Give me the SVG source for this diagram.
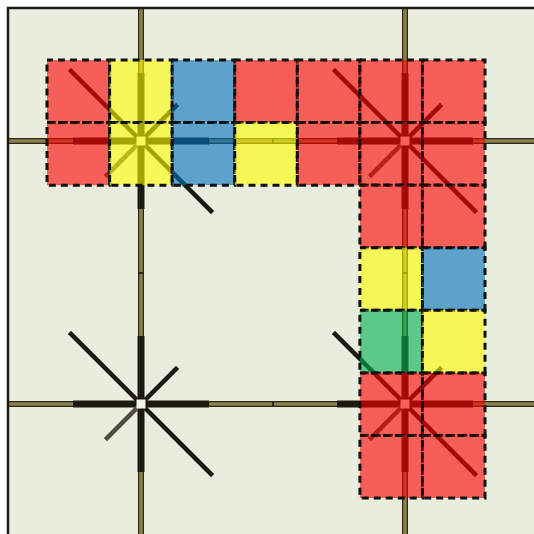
<svg xmlns="http://www.w3.org/2000/svg" width="534" height="534" viewBox="0 0 534 534">
<defs>
<style>
.bg{fill:#e9eddd}
.frame{stroke:#1e1c14;stroke-width:2.5;fill:none}
.wo{stroke:#2a2718;stroke-width:6;fill:none}
.wi{stroke:#8b7f4e;stroke-width:3.6;fill:none}
.tick{stroke:#2a2718;stroke-width:2}
.arm{stroke:#1c1a10;stroke-width:7;stroke-linecap:butt}
.diag{stroke:#1c1a10;stroke-width:4.5;stroke-linecap:square}
.diag2{stroke:#4f4c3e;stroke-width:4.5;stroke-linecap:square}
.hub{fill:#eef1e6}
.t{fill-opacity:0.6;stroke:#111;stroke-width:3;stroke-dasharray:7 5;stroke-dashoffset:1;stroke-opacity:1}
.r{fill:#ff0000}.y{fill:#ffff00}.b{fill:#0070c0}.g{fill:#00b050}
</style>
<g id="glyph">
<line class="arm" x1="0" y1="-4" x2="0" y2="-68"/>
<line class="arm" x1="0" y1="4" x2="0" y2="68"/>
<line class="arm" x1="-4" y1="0" x2="-68" y2="0"/>
<line class="arm" x1="4" y1="0" x2="68" y2="0"/>
<line class="diag" x1="0" y1="0" x2="-70" y2="-70"/>
<line class="diag" x1="0" y1="0" x2="70" y2="70"/>
<line class="diag" x1="0" y1="0" x2="35" y2="-35"/>
<line class="diag2" x1="-4" y1="4" x2="-34" y2="34"/>
<rect class="hub" x="-4.5" y="-4.5" width="9" height="9"/>
</g>
</defs>
<rect class="bg" x="8" y="8" width="526" height="526"/>
<g id="connectors">
<path class="wo" d="M8 141H534M8 404H534M141 8V534M405 8V534"/>
<path class="wi" d="M8 141H534M8 404H534M141 8V534M405 8V534"/>
<path class="tick" d="M273 138V144M273 401V407M138 273H144M402 273H408"/>
</g>
<path class="frame" d="M8 534V8H534"/>
<g id="node-nw"><use href="#glyph" x="141" y="141"/></g>
<g id="node-ne"><use href="#glyph" x="405" y="141"/></g>
<g id="node-sw"><use href="#glyph" x="141" y="404"/></g>
<g id="node-se"><use href="#glyph" x="405" y="404"/></g>
<g id="tiles">
<rect class="t r" x="47" y="60" width="62.6" height="62.6"/>
<rect class="t y" x="109.6" y="60" width="62.6" height="62.6"/>
<rect class="t b" x="172.1" y="60" width="62.6" height="62.6"/>
<rect class="t r" x="234.7" y="60" width="62.6" height="62.6"/>
<rect class="t r" x="297.3" y="60" width="62.6" height="62.6"/>
<rect class="t r" x="359.9" y="60" width="62.6" height="62.6"/>
<rect class="t r" x="422.4" y="60" width="62.6" height="62.6"/>
<rect class="t r" x="47" y="122.6" width="62.6" height="62.6"/>
<rect class="t y" x="109.6" y="122.6" width="62.6" height="62.6"/>
<rect class="t b" x="172.1" y="122.6" width="62.6" height="62.6"/>
<rect class="t y" x="234.7" y="122.6" width="62.6" height="62.6"/>
<rect class="t r" x="297.3" y="122.6" width="62.6" height="62.6"/>
<rect class="t r" x="359.9" y="122.6" width="62.6" height="62.6"/>
<rect class="t r" x="422.4" y="122.6" width="62.6" height="62.6"/>
<rect class="t r" x="359.9" y="185.1" width="62.6" height="62.6"/>
<rect class="t r" x="422.4" y="185.1" width="62.6" height="62.6"/>
<rect class="t y" x="359.9" y="247.7" width="62.6" height="62.6"/>
<rect class="t b" x="422.4" y="247.7" width="62.6" height="62.6"/>
<rect class="t g" x="359.9" y="310.3" width="62.6" height="62.6"/>
<rect class="t y" x="422.4" y="310.3" width="62.6" height="62.6"/>
<rect class="t r" x="359.9" y="372.9" width="62.6" height="62.6"/>
<rect class="t r" x="422.4" y="372.9" width="62.6" height="62.6"/>
<rect class="t r" x="359.9" y="435.4" width="62.6" height="62.6"/>
<rect class="t r" x="422.4" y="435.4" width="62.6" height="62.6"/>
</g>
</svg>
